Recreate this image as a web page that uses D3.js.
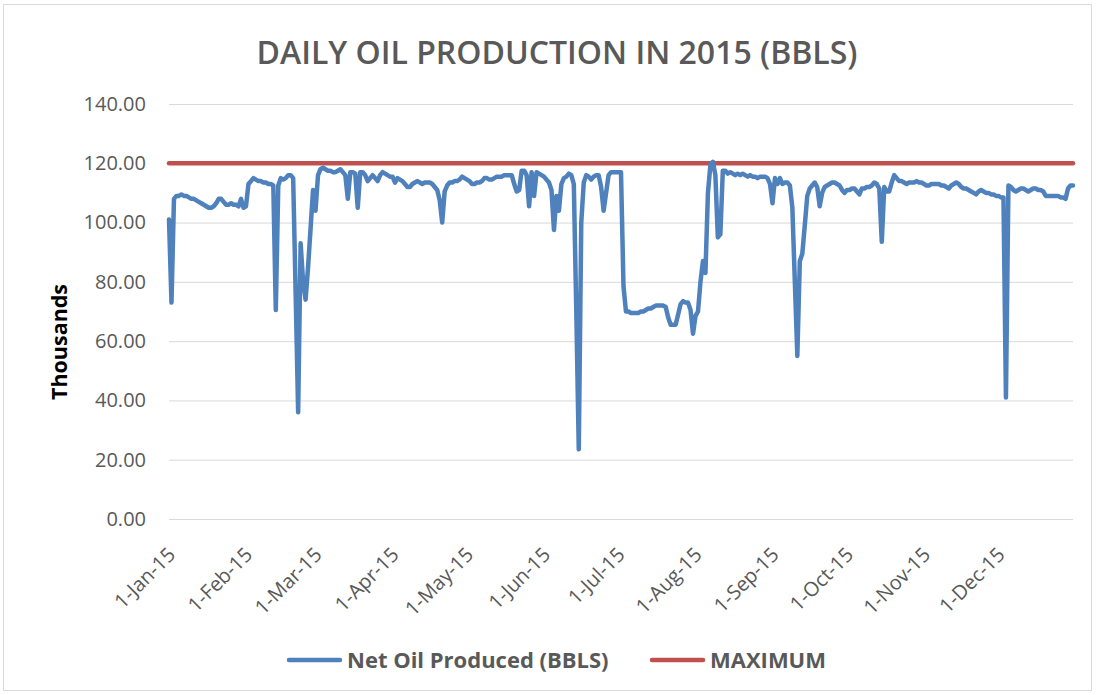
<!DOCTYPE html>
<html>
<head>
<meta charset="utf-8">
<script src="https://cdn.jsdelivr.net/npm/d3@7"></script>
<style>
  body { margin: 0; background: #fff; }
  svg text { font-family: "Open Sans", "Liberation Sans", sans-serif; }
</style>
</head>
<body>
<div id="chart"></div>
<script>
// Net oil produced per day in 2015 (thousands of BBLS), 1-Jan through 31-Dec
var janMar = [
  101, 73, 108, 109, 109, 109.5, 109, 109, 108.5, 108,
  108, 107.5, 107, 106.5, 106, 105.5, 105, 105, 105.5, 106.5,
  108, 108, 107, 106, 106, 106.5, 106, 106, 105.5, 108,
  105, 105.5, 113, 114, 115, 114.5, 114, 114, 113.5, 113.5,
  113, 113, 112.5, 70.5, 112.5, 115, 114.5, 115, 116, 116,
  115, 76, 36, 93, 80, 74, 85, 98, 111, 104,
  116, 118, 118.5, 118, 117.5, 117.5, 117, 117, 117.5, 118,
  117, 116, 108, 117, 117, 116.5, 105, 117, 117, 116,
  114, 115, 116, 115, 114, 116, 117, 116.5, 116, 115.5
];
var aprJun = [
  115.5, 113.5, 115, 114.5, 114, 113, 112, 112, 113, 113.5,
  114, 113.5, 113, 113.5, 113.5, 113.5, 113, 112, 111, 107.5,
  100, 110.5, 112.5, 113.5, 113.5, 114, 114, 114.5, 115.5, 115,
  114.5, 114, 113, 113, 113.5, 113.5, 114, 115, 115, 114.5,
  114.5, 115, 115.5, 115.5, 115.5, 116, 116, 116, 116, 113,
  110.5, 111, 117.5, 117.5, 116, 105.5, 117, 109, 117, 116.5,
  116, 115.5, 114.5, 113.5, 111, 97.5, 109, 104, 113, 115,
  115.5, 116.5, 116, 113, 70, 23.5, 100, 113.5, 116, 115.5,
  114.5, 115.5, 116, 116, 112, 104, 110, 116, 117, 117,
  117
];
var julSep = [
  117, 117, 78.5, 70, 70, 69.5, 69.5, 69.5, 69.5, 70,
  70, 70.5, 71, 71, 71.5, 72, 72, 72, 72, 71.5,
  68, 65.5, 65.5, 65.5, 69, 72.5, 73.5, 73, 73, 70.5,
  62.5, 68.5, 70, 80, 87, 83, 110, 119.5, 120.5, 116,
  95, 96, 117.5, 117.5, 116.5, 117, 116.5, 116, 116.5, 116,
  116.5, 116, 115.5, 116, 115.5, 115.5, 115, 115.5, 115.5, 115.5,
  115, 113, 106.5, 115, 113, 115, 113, 113.5, 113.5, 112.5,
  105, 80, 55, 87, 89.5, 99, 109, 111.5, 112.5, 113.5,
  112, 105.5, 110, 112, 112.5, 113, 113.5, 113.5, 113, 112.5,
  111, 110
];
var octDec = [
  111, 111, 111.5, 111.5, 110.5, 109.5, 111.5, 111.5, 112, 112,
  112.5, 113.5, 113, 111.5, 93.5, 112, 110.5, 110.5, 113.5, 116,
  115, 114, 114, 113.5, 113, 113.5, 113.5, 113.5, 114, 113.5,
  113.5, 113, 112.5, 112.5, 113, 113, 113, 113, 112.5, 112.5,
  112, 111.5, 112.5, 113, 113.5, 113, 112, 111.5, 111.5, 111,
  110.5, 110, 109.5, 110.5, 111, 110.5, 110, 110, 109.5, 109.5,
  109, 109, 108.5, 108.5, 41, 112.5, 112, 111, 110.5, 111,
  111.5, 111.5, 111, 110.5, 111, 111.5, 111.5, 111, 111, 110.5,
  109, 109, 109, 109, 109, 109, 108.5, 108.5, 108, 111.5,
  112.5, 112.5
];
var netOil = janMar.concat(aprJun, julSep, octDec);
var maximum = 120;
var yTicks = [0, 20, 40, 60, 80, 100, 120, 140];
var monthTicks = d3.range(0, 12).map(function(m) { return new Date(2015, m, 1); });

var startDate = new Date(2015, 0, 1);
var endDate = new Date(2015, 11, 31);
var oilData = netOil.map(function(v, i) {
  return { date: d3.timeDay.offset(startDate, i), value: v };
});

var svgWidth = 1096;
var svgHeight = 695;
var plot = { left: 169, right: 1073, top: 104, bottom: 519 };

var svg = d3.select("#chart")
  .append("svg")
  .attr("width", svgWidth)
  .attr("height", svgHeight);

// chart area border
svg.append("rect")
  .attr("x", 3.5)
  .attr("y", 4.5)
  .attr("width", svgWidth - 8)
  .attr("height", svgHeight - 9)
  .attr("fill", "#fff")
  .attr("stroke", "#d9d9d9");

var xScale = d3.scaleTime()
  .domain([startDate, endDate])
  .range([plot.left, plot.right]);

var yScale = d3.scaleLinear()
  .domain([0, 140])
  .range([plot.bottom, plot.top]);

// gridlines + y labels
var yAxis = d3.axisLeft(yScale)
  .tickValues(yTicks)
  .tickSize(-(plot.right - plot.left))
  .tickPadding(23)
  .tickFormat(d3.format(".2f"));

var yG = svg.append("g")
  .attr("transform", `translate(${plot.left}, 0)`)
  .call(yAxis);
yG.select(".domain").remove();
yG.selectAll("line").attr("stroke", "#d9d9d9");
yG.selectAll("text")
  .attr("fill", "#595959")
  .style("font-size", "20px");

// x axis labels, rotated
var xAxis = d3.axisBottom(xScale)
  .tickValues(monthTicks)
  .tickSize(0)
  .tickFormat(d3.timeFormat("%-d-%b-%y"));

var xG = svg.append("g")
  .attr("transform", `translate(0, ${plot.bottom})`)
  .call(xAxis);
xG.select(".domain").remove();
xG.selectAll("text")
  .attr("fill", "#595959")
  .style("font-size", "20px")
  .attr("text-anchor", "end")
  .attr("y", 0)
  .attr("dy", 0)
  .attr("transform", "translate(7, 37) rotate(-45)");

// max line
svg.append("line")
  .attr("x1", xScale(startDate))
  .attr("x2", xScale(endDate))
  .attr("y1", yScale(maximum))
  .attr("y2", yScale(maximum))
  .attr("stroke", "#c0504d")
  .attr("stroke-width", 4.5)
  .attr("stroke-linecap", "round");

var line = d3.line()
  .x(d => xScale(d.date))
  .y(d => yScale(d.value));

svg.append("path")
  .datum(oilData)
  .attr("d", line)
  .attr("fill", "none")
  .attr("stroke", "#4f81bd")
  .attr("stroke-width", 4.5)
  .attr("stroke-linejoin", "round")
  .attr("stroke-linecap", "round");

// title
svg.append("text")
  .attr("x", 557)
  .attr("y", 64)
  .attr("text-anchor", "middle")
  .attr("fill", "#595959")
  .style("font-size", "32px")
  .style("font-weight", "600")
  .text("DAILY OIL PRODUCTION IN 2015 (BBLS)");

// y axis title
svg.append("text")
  .attr("transform", "translate(67, 342) rotate(-90)")
  .attr("text-anchor", "middle")
  .attr("fill", "#000")
  .style("font-size", "21.5px")
  .style("font-weight", "bold")
  .text("Thousands");

// legend
var legendItems = [
  { name: "Net Oil Produced (BBLS)", color: "#4f81bd", x: 289 },
  { name: "MAXIMUM", color: "#c0504d", x: 652 }
];
var legend = svg.selectAll(".legend")
  .data(legendItems)
  .enter()
  .append("g")
  .attr("class", "legend")
  .attr("transform", d => `translate(${d.x}, 660)`);

legend.append("line")
  .attr("x1", 0)
  .attr("x2", 51)
  .attr("stroke", d => d.color)
  .attr("stroke-width", 4.5)
  .attr("stroke-linecap", "round");

legend.append("text")
  .attr("x", 58)
  .attr("dy", "0.36em")
  .attr("fill", "#595959")
  .style("font-size", "22px")
  .style("font-weight", "bold")
  .text(d => d.name);
</script>
</body>
</html>
